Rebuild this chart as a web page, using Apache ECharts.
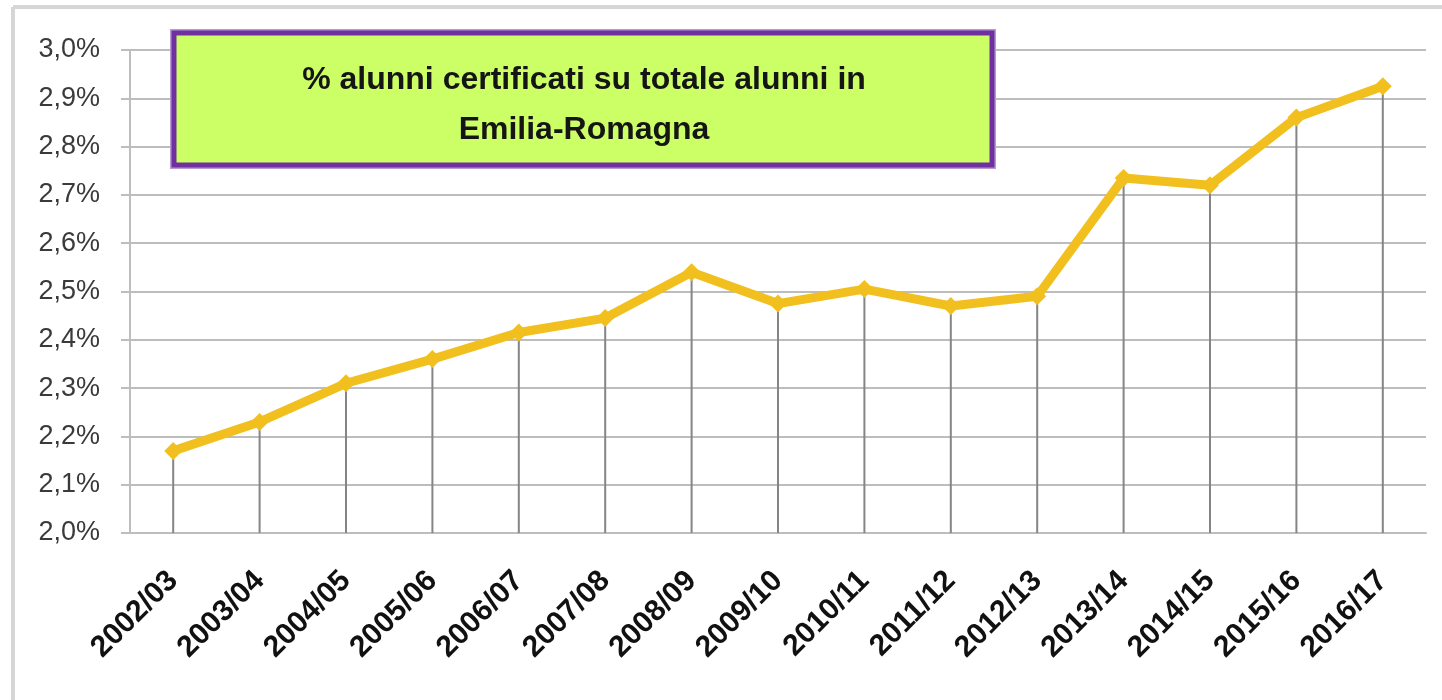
<!DOCTYPE html>
<html>
<head>
<meta charset="utf-8">
<script src="https://cdn.jsdelivr.net/npm/echarts@6/dist/echarts.min.js"></script>
<style>
  html, body { margin: 0; padding: 0; background: #fff; }
  #chart { width: 1442px; height: 700px; }
</style>
</head>
<body>
<div id="chart"></div>
<script>
// anni scolastici
var categories = ['2002/03', '2003/04', '2004/05', '2005/06', '2006/07', '2007/08', '2008/09',
  '2009/10', '2010/11', '2011/12', '2012/13', '2013/14', '2014/15', '2015/16', '2016/17'];
// % alunni certificati
var values = [2.17, 2.23, 2.31, 2.36, 2.415, 2.445, 2.54, 2.475, 2.505, 2.47, 2.49, 2.735, 2.72, 2.86, 2.925];
var titleLines = ['% alunni certificati su totale alunni in', 'Emilia-Romagna'];

var chart = echarts.init(document.getElementById('chart'));
var gridColor = '#bdbdbd';

chart.setOption({
  animation: false,
  grid: { left: 130, right: 16, top: 50, bottom: 167 },
  xAxis: {
    type: 'category',
    data: categories,
    boundaryGap: true,
    axisLine: { show: true, lineStyle: { color: gridColor, width: 2 } },
    axisTick: { show: false },
    axisLabel: {
      rotate: 45,
      margin: 43,
      interval: 0,
      fontFamily: 'Liberation Sans',
      fontSize: 30,
      fontWeight: 'bold',
      color: '#111'
    }
  },
  yAxis: {
    type: 'value',
    min: 2.0,
    max: 3.0,
    interval: 0.1,
    axisLine: { show: true, lineStyle: { color: gridColor, width: 2 } },
    axisTick: { show: true, length: 9, lineStyle: { color: gridColor, width: 2 } },
    splitLine: { show: true, lineStyle: { color: gridColor, width: 2 } },
    axisLabel: {
      margin: 30,
      fontFamily: 'Liberation Sans',
      fontSize: 27,
      color: '#3a3a3a',
      formatter: function (v) { return v.toFixed(1).replace('.', ',') + '%'; }
    }
  },
  series: [
    {
      // linee di riferimento verticali
      type: 'bar',
      data: values,
      barWidth: 2,
      itemStyle: { color: '#858585' },
      silent: true,
      z: 1
    },
    {
      type: 'line',
      data: values,
      symbol: 'diamond',
      symbolSize: 18,
      lineStyle: { color: '#F2C01E', width: 9 },
      itemStyle: { color: '#F2C01E' },
      z: 3
    }
  ],
  graphic: [
    { type: 'line', shape: { x1: 13, y1: 7, x2: 1442, y2: 7 }, style: { stroke: '#d6d6d6', lineWidth: 4 } },
    { type: 'line', shape: { x1: 13, y1: 7, x2: 13, y2: 700 }, style: { stroke: '#d6d6d6', lineWidth: 4 } },
    { type: 'rect', shape: { x: 171, y: 30, width: 824, height: 138 }, style: { fill: null, stroke: '#b79bd2', lineWidth: 2 }, z: 10 },
    { type: 'rect', shape: { x: 174, y: 33, width: 818, height: 132 }, style: { fill: '#CCFF66', stroke: '#7030A0', lineWidth: 5 }, z: 10 },
    { type: 'text', x: 584, y: 80, style: { text: titleLines[0], fontFamily: 'Liberation Sans', fontSize: 32, fontWeight: 'bold', fill: '#151515', align: 'center', verticalAlign: 'middle' }, z: 11 },
    { type: 'text', x: 584, y: 130, style: { text: titleLines[1], fontFamily: 'Liberation Sans', fontSize: 32, fontWeight: 'bold', fill: '#151515', align: 'center', verticalAlign: 'middle' }, z: 11 }
  ]
});
</script>
</body>
</html>
